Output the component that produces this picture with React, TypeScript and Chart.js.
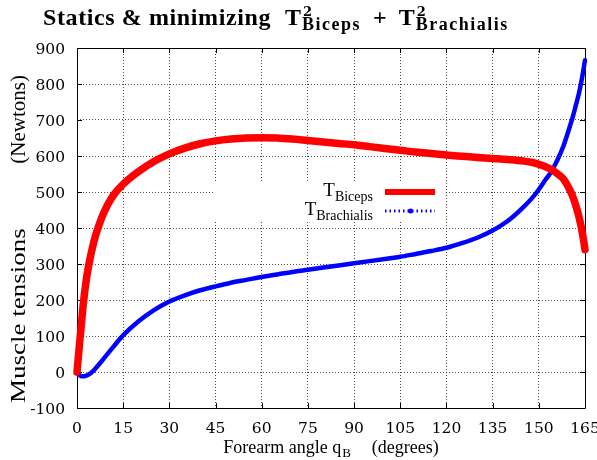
import React, { useEffect, useRef } from "react";
import { Chart, registerables } from "chart.js";

Chart.register(...registerables);

// ---- data ----
const angles = [0, 0.5, 1, 1.5, 2, 3, 4, 5, 6, 8, 10, 12, 15, 20, 25, 30, 35, 40, 45, 50, 55, 60, 65, 70, 75, 80, 85, 90, 95, 100, 105, 110, 115, 120, 125, 130, 135, 140, 145, 148, 150, 152, 154, 156, 158, 160, 161, 162, 163, 164, 164.5, 165];

const bicepsTension = [0, 48, 95, 140, 185, 255, 305, 345, 378, 428, 465, 493, 522, 557, 585, 606, 622, 634, 642, 647, 650, 651, 650, 647, 643, 639, 635, 631, 626, 621, 616, 611, 607, 603, 599, 596, 593, 590, 586, 582, 577, 571, 563, 551, 536, 507, 488, 463, 432, 393, 368, 340];

const brachialisTension = [0, -6, -10, -12, -12, -10, -6, 1, 10, 30, 51, 72, 102, 141, 172, 196, 213, 227, 238, 248, 256, 264, 271, 278, 284, 290, 296, 302, 308, 314, 320, 328, 336, 345, 358, 373, 393, 420, 458, 485, 507, 532, 556, 588, 628, 680, 708, 740, 773, 815, 840, 866];

const xTickValues = [0, 15, 30, 45, 60, 75, 90, 105, 120, 135, 150, 165];
const yTickValues = [-100, 0, 100, 200, 300, 400, 500, 600, 700, 800, 900];

const seriesNames = ["Biceps", "Brachialis"];
const seriesColors = ["#ff0000", "#0000ff"];

const SERIF = '"Liberation Serif", serif';
const DIGITS = '"DejaVu Serif", serif';

const decorPlugin = {
  id: "decor",
  beforeDatasetsDraw(chart: any) {
    const ctx = chart.ctx as CanvasRenderingContext2D;
    const { left, right, top, bottom } = chart.chartArea;
    const xs = chart.scales.x;
    const ys = chart.scales.y;
    ctx.save();
    // legend box clears the grid behind it
    ctx.fillStyle = "#ffffff";
    ctx.fillRect(214, 182, 232, 38);
    // frame
    ctx.strokeStyle = "#000";
    ctx.lineWidth = 1;
    ctx.beginPath();
    ctx.rect(Math.round(left) + 0.5, Math.round(top) + 0.5, Math.round(right - left), Math.round(bottom - top));
    ctx.stroke();
    // inward ticks on all four sides
    const tl = 5;
    ctx.beginPath();
    for (const v of xTickValues) {
      const px = Math.round(xs.getPixelForValue(v)) + 0.5;
      ctx.moveTo(px, bottom);
      ctx.lineTo(px, bottom - tl);
      ctx.moveTo(px, top);
      ctx.lineTo(px, top + tl);
    }
    for (const v of yTickValues) {
      const py = Math.round(ys.getPixelForValue(v)) + 0.5;
      ctx.moveTo(left, py);
      ctx.lineTo(left + tl, py);
      ctx.moveTo(right, py);
      ctx.lineTo(right - tl, py);
    }
    ctx.stroke();
    ctx.restore();
  },
  afterDraw(chart: any) {
    const ctx = chart.ctx as CanvasRenderingContext2D;
    const { left, right, bottom } = chart.chartArea;
    const xs = chart.scales.x;
    const ys = chart.scales.y;
    ctx.save();
    ctx.fillStyle = "#000";
    ctx.textBaseline = "alphabetic";
    ctx.textAlign = "left";
    const c: any = ctx;

    // ---- title ----
    const mainF = `bold 24px ${SERIF}`;
    const scrF = `bold 18px ${SERIF}`;
    const supF = `bold 13px ${DIGITS}`;
    let x = 43;
    const base = 25;
    ctx.font = mainF;
    c.letterSpacing = "0.6px";
    const head = "Statics & minimizing";
    ctx.fillText(head, x, base);
    x += ctx.measureText(head).width + 14;
    const drawTerm = (sub: string) => {
      ctx.font = mainF;
      c.letterSpacing = "0px";
      ctx.fillText("T", x, base);
      x += ctx.measureText("T").width + 1;
      ctx.font = supF;
      ctx.fillText("2", x + 1, base - 9);
      const w2 = ctx.measureText("2").width + 1;
      ctx.font = scrF;
      c.letterSpacing = "1.5px";
      ctx.fillText(sub, x, base + 5);
      x += Math.max(w2, ctx.measureText(sub).width);
    };
    drawTerm(seriesNames[0]);
    x += 12;
    ctx.font = mainF;
    c.letterSpacing = "0px";
    ctx.fillText("+", x, base);
    x += ctx.measureText("+").width + 12;
    drawTerm(seriesNames[1]);
    c.letterSpacing = "0px";

    // ---- tick labels, placed through the scales ----
    ctx.font = `15.5px ${DIGITS}`;
    ctx.textAlign = "center";
    for (const v of xTickValues) {
      ctx.fillText(String(v), xs.getPixelForValue(v), bottom + 25);
    }
    ctx.textAlign = "right";
    for (const v of yTickValues) {
      ctx.fillText(String(v), left - 12, ys.getPixelForValue(v) + 6);
    }
    ctx.textAlign = "left";

    // ---- legend ----
    const lgRight = 373;
    const rows = [
      { base: 196, lineY: 192 },
      { base: 215, lineY: 211 },
    ];
    rows.forEach((r, i) => {
      ctx.font = `14px ${SERIF}`;
      const ws = ctx.measureText(seriesNames[i]).width;
      ctx.fillText(seriesNames[i], lgRight - ws, r.base + 5);
      ctx.font = `19px ${SERIF}`;
      const wt = ctx.measureText("T").width;
      ctx.fillText("T", lgRight - ws - wt, r.base);
    });
    ctx.lineCap = "butt";
    ctx.strokeStyle = seriesColors[0];
    ctx.lineWidth = 6;
    ctx.beginPath();
    ctx.moveTo(385, rows[0].lineY);
    ctx.lineTo(435, rows[0].lineY);
    ctx.stroke();
    ctx.strokeStyle = seriesColors[1];
    ctx.lineWidth = 3;
    ctx.setLineDash([1.5, 3]);
    ctx.beginPath();
    ctx.moveTo(385, rows[1].lineY);
    ctx.lineTo(435, rows[1].lineY);
    ctx.stroke();
    ctx.setLineDash([]);
    ctx.fillStyle = seriesColors[1];
    ctx.beginPath();
    ctx.arc(410.5, rows[1].lineY, 2.5, 0, Math.PI * 2);
    ctx.fill();
    ctx.fillStyle = "#000";

    // ---- x axis title ----
    const axF = `18px ${SERIF}`;
    const axSubF = `13px ${SERIF}`;
    const p1 = "Forearm angle q";
    const p2 = "B";
    const p3 = "(degrees)";
    ctx.font = axF;
    const w1 = ctx.measureText(p1).width;
    const w3 = ctx.measureText(p3).width;
    ctx.font = axSubF;
    const w2 = ctx.measureText(p2).width;
    const gap = 21;
    const total = w1 + 1 + w2 + gap + w3;
    let ax = (left + right) / 2 - total / 2;
    const ab = 453;
    ctx.font = axF;
    ctx.fillText(p1, ax, ab);
    ax += w1 + 1;
    ctx.font = axSubF;
    ctx.fillText(p2, ax, ab + 4);
    ax += w2 + gap;
    ctx.font = axF;
    ctx.fillText(p3, ax, ab);

    // ---- y axis title (rotated) ----
    ctx.save();
    ctx.translate(25, 0);
    ctx.rotate(-Math.PI / 2);
    ctx.font = `20px ${SERIF}`;
    ctx.save();
    ctx.translate(-403, 0);
    ctx.scale(1.35, 1);
    ctx.textAlign = "left";
    ctx.fillText("Muscle tensions", 0, 0);
    ctx.restore();
    ctx.save();
    ctx.translate(-75, 0);
    ctx.scale(1.05, 1);
    ctx.textAlign = "right";
    ctx.fillText("(Newtons)", 0, 0);
    ctx.restore();
    ctx.restore();

    ctx.restore();
  },
};

export default function App() {
  const canvasRef = useRef<HTMLCanvasElement | null>(null);

  useEffect(() => {
    const canvas = canvasRef.current;
    if (!canvas) return;
    const mk = (vals: number[]) => angles.map((a, i) => ({ x: a, y: vals[i] }));
    const chart = new Chart(canvas, {
      type: "line",
      data: {
        datasets: [
          {
            label: seriesNames[1],
            data: mk(brachialisTension),
            borderColor: seriesColors[1],
            backgroundColor: seriesColors[1],
            borderWidth: 4.5,
            pointRadius: 0,
            cubicInterpolationMode: "monotone",
            borderCapStyle: "round",
            borderJoinStyle: "round",
            clip: 8,
            order: 2,
          },
          {
            label: seriesNames[0],
            data: mk(bicepsTension),
            borderColor: seriesColors[0],
            backgroundColor: seriesColors[0],
            borderWidth: 7.5,
            pointRadius: 0,
            cubicInterpolationMode: "monotone",
            borderCapStyle: "round",
            borderJoinStyle: "round",
            clip: 8,
            order: 1,
          },
        ],
      },
      options: {
        animation: false,
        responsive: false,
        maintainAspectRatio: false,
        devicePixelRatio: 1,
        layout: { padding: { left: 0, right: 12, top: 48, bottom: 0 } },
        plugins: {
          legend: { display: false },
          title: { display: false },
          tooltip: { enabled: false },
        },
        scales: {
          x: {
            type: "linear",
            min: 0,
            max: 165,
            afterFit: (s: any) => {
              s.height = 52;
            },
            afterBuildTicks: (s: any) => {
              s.ticks = xTickValues.map((v) => ({ value: v }));
            },
            ticks: { display: false, autoSkip: false, maxRotation: 0 },
            grid: { color: "rgba(0,0,0,0.7)", lineWidth: 1, drawTicks: false },
            border: { display: false, dash: [1, 2] },
          },
          y: {
            type: "linear",
            min: -100,
            max: 900,
            afterFit: (s: any) => {
              s.width = 77;
            },
            afterBuildTicks: (s: any) => {
              s.ticks = yTickValues.map((v) => ({ value: v }));
            },
            ticks: { display: false, autoSkip: false },
            grid: { color: "rgba(0,0,0,0.7)", lineWidth: 1, drawTicks: false },
            border: { display: false, dash: [1, 2] },
          },
        },
      },
      plugins: [decorPlugin],
    } as any);

    let alive = true;
    const redraw = () => {
      if (alive) chart.update("none");
    };
    const t1 = setTimeout(redraw, 100);
    return () => {
      alive = false;
      clearTimeout(t1);
      chart.destroy();
    };
  }, []);

  return (
    <div style={{ position: "absolute", left: 0, top: 0, width: 597, height: 460, background: "#fff" }}>
      <canvas ref={canvasRef} width={597} height={460} style={{ display: "block" }} />
    </div>
  );
}
